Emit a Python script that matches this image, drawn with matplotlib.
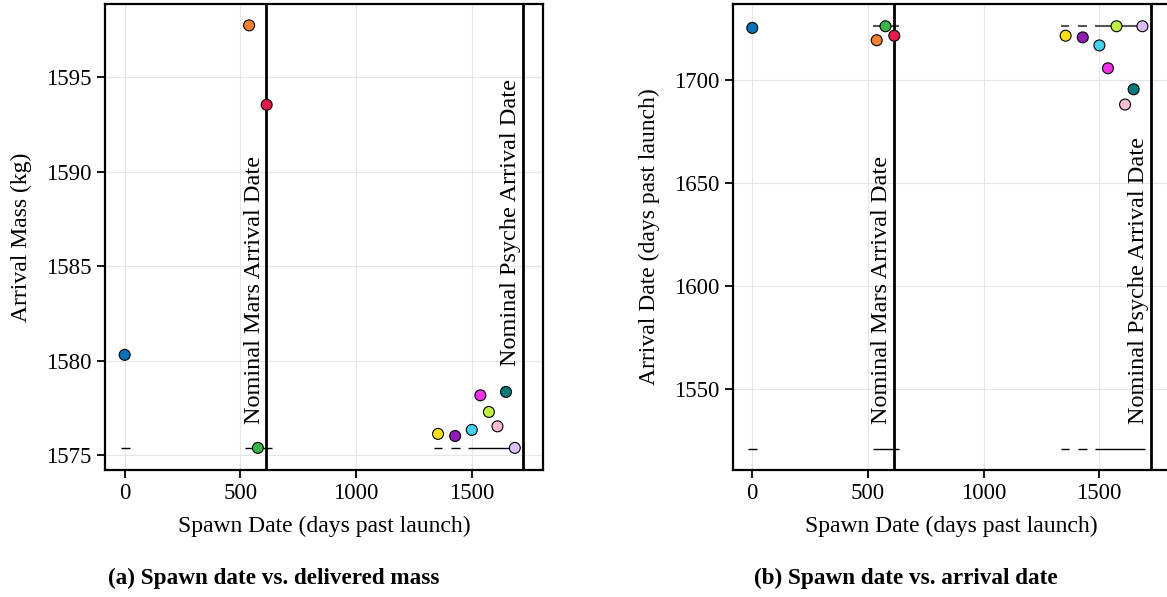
import numpy as np
import matplotlib.pyplot as plt

plt.rcParams['font.family'] = ['Liberation Serif', 'DejaVu Serif']
plt.rcParams['font.size'] = 16

############# DATA

# spawn date of each vehicle (days past launch)
spawn = [0, 538, 614, 576, 1355, 1429, 1501, 1538, 1575, 1612, 1649, 1687]
# mass delivered at arrival (kg)
mass = [1580.31, 1597.73, 1593.53, 1575.39, 1576.13, 1576.02,
        1576.34, 1578.17, 1577.29, 1576.53, 1578.35, 1575.39]
# arrival date (days past launch)
arrival = [1725.1, 1719.1, 1721.3, 1725.9, 1721.3, 1720.5,
           1716.6, 1705.5, 1725.9, 1687.9, 1695.3, 1725.9]
colors = ['#0a72b8', '#f58231', '#e6194b', '#3cb44b', '#ffe119', '#911eb4',
          '#42d4f4', '#f032e6', '#bfef45', '#fabed4', '#007a78', '#dcbeff']

mars_date = 613       # nominal Mars arrival
psyche_date = 1723    # nominal Psyche arrival

# horizontal guide segments (x ranges)
seg_lo = [-18, 520, 1337, 1409, 1484]
seg_hi = [22, 636, 1371, 1448, 1700]
base_b = 1520.9       # lower guide level on arrival plot

TICK_FS = 16.5
LABEL_FS = 17
NOTE_FS = 17.5

############# PLOT

fig = plt.figure(figsize=(11.67, 5.97), dpi=100)
axa = fig.add_axes([0.090, 0.2127, 0.3753, 0.7806])
axb = fig.add_axes([0.6278, 0.2127, 0.3753, 0.7806])

def style(ax):
    ax.grid(True, color='#e6e6e6', lw=0.8, zorder=0)
    ax.set_axisbelow(True)
    for s in ax.spines.values():
        s.set_linewidth(1.6)
    ax.tick_params(direction='out', length=6, width=1.3, labelsize=TICK_FS)
    ax.set_xlim(-85, 1809)
    ax.set_xticks([0, 500, 1000, 1500])
    ax.set_xlabel("Spawn Date (days past launch)", fontsize=LABEL_FS, labelpad=8)

# (a) spawn date vs delivered mass
style(axa)
axa.hlines([min(mass)] * len(seg_lo), seg_lo, seg_hi, color='k', lw=1, zorder=2)
axa.axvline(mars_date, color='k', lw=2, zorder=3)
axa.axvline(psyche_date, color='k', lw=2, zorder=3)
axa.scatter(spawn, mass, c=colors, s=62, edgecolors='k', linewidths=0.8, zorder=4)
axa.text(mars_date - 8, 1576.66, "Nominal Mars Arrival Date", rotation=90,
         ha='right', va='bottom', fontsize=NOTE_FS)
axa.text(psyche_date - 8, 1579.7, "Nominal Psyche Arrival Date", rotation=90,
         ha='right', va='bottom', fontsize=NOTE_FS)
axa.set_ylim(1574.22, 1598.86)
axa.set_yticks([1575, 1580, 1585, 1590, 1595])
axa.set_ylabel("Arrival Mass (kg)", fontsize=LABEL_FS, labelpad=10)

# (b) spawn date vs arrival date
style(axb)
axb.hlines([base_b] * len(seg_lo), seg_lo, seg_hi, color='k', lw=1, zorder=2)
axb.hlines([max(arrival)] * (len(seg_lo) - 1), seg_lo[1:], seg_hi[1:],
           color='#555555', lw=1.5, zorder=2)
axb.axvline(mars_date, color='k', lw=2, zorder=3)
axb.axvline(psyche_date, color='k', lw=2, zorder=3)
axb.scatter(spawn, arrival, c=colors, s=62, edgecolors='k', linewidths=0.8, zorder=4)
axb.text(mars_date - 8, 1532.7, "Nominal Mars Arrival Date", rotation=90,
         ha='right', va='bottom', fontsize=NOTE_FS)
axb.text(psyche_date - 8, 1532.7, "Nominal Psyche Arrival Date", rotation=90,
         ha='right', va='bottom', fontsize=NOTE_FS)
axb.set_ylim(1510.5, 1736.7)
axb.set_yticks([1550, 1600, 1650, 1700])
axb.set_ylabel("Arrival Date (days past launch)", fontsize=LABEL_FS, labelpad=10)

fig.text(0.2344, 0.031, "(a) Spawn date vs. delivered mass", ha='center',
         va='center', fontsize=16.7, fontweight='bold')
fig.text(0.776, 0.031, "(b) Spawn date vs. arrival date", ha='center',
         va='center', fontsize=16.7, fontweight='bold')

fig.savefig("out.png", dpi=100)
